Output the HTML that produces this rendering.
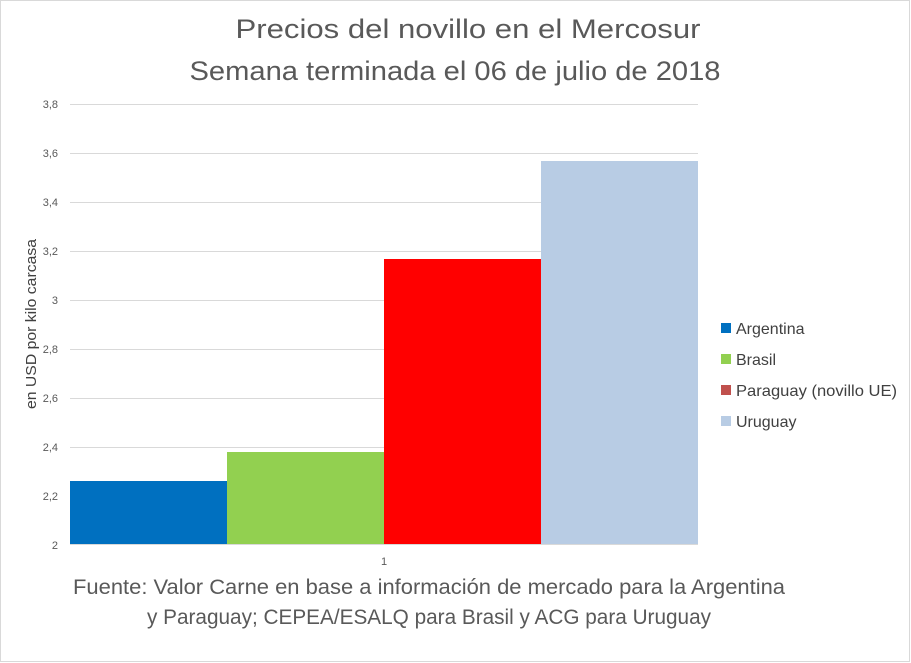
<!DOCTYPE html>
<html><head><meta charset="utf-8"><style>
html,body{margin:0;padding:0;background:#fff;}
svg{display:block;font-family:"Liberation Sans",sans-serif;}
</style></head><body>
<svg width="911" height="663" viewBox="0 0 911 663" xmlns="http://www.w3.org/2000/svg">
<rect x="0.5" y="0.5" width="909" height="661" fill="#fff" stroke="#d9d9d9"/>
<g fill="#595959">
<text x="468" y="38" font-size="27" text-anchor="middle" textLength="465" lengthAdjust="spacingAndGlyphs">Precios del novillo en el Mercosur</text>
<text x="455" y="80" font-size="27" text-anchor="middle" textLength="531" lengthAdjust="spacingAndGlyphs">Semana terminada el 06 de julio de 2018</text>
</g>
<g stroke="#d9d9d9" stroke-width="1">
<line x1="70" x2="698" y1="104.5" y2="104.5"/>
<line x1="70" x2="698" y1="153.5" y2="153.5"/>
<line x1="70" x2="698" y1="202.5" y2="202.5"/>
<line x1="70" x2="698" y1="251.5" y2="251.5"/>
<line x1="70" x2="698" y1="300.5" y2="300.5"/>
<line x1="70" x2="698" y1="349.5" y2="349.5"/>
<line x1="70" x2="698" y1="398.5" y2="398.5"/>
<line x1="70" x2="698" y1="447.5" y2="447.5"/>
<line x1="70" x2="698" y1="496.5" y2="496.5"/>
</g>
<g font-size="11" fill="#595959" text-anchor="end">
<text x="58" y="108">3,8</text><text x="58" y="157">3,6</text><text x="58" y="206">3,4</text>
<text x="58" y="255">3,2</text><text x="58" y="304">3</text><text x="58" y="353">2,8</text>
<text x="58" y="402">2,6</text><text x="58" y="451">2,4</text><text x="58" y="500">2,2</text>
<text x="58" y="549">2</text>
</g>
<text transform="translate(36,324) rotate(-90)" font-size="15" fill="#404040" text-anchor="middle" textLength="170" lengthAdjust="spacingAndGlyphs">en USD por kilo carcasa</text>
<rect x="70" y="481" width="157" height="63" fill="#0070c0"/>
<rect x="227" y="452" width="157" height="92" fill="#92d050"/>
<rect x="384" y="259" width="157" height="285" fill="#ff0000"/>
<rect x="541" y="161" width="157" height="383" fill="#b8cce4"/>
<line x1="70" x2="698" y1="544.5" y2="544.5" stroke="#d9d9d9"/>
<text x="384" y="565" font-size="11" fill="#595959" text-anchor="middle">1</text>
<g font-size="16" fill="#404040">
<rect x="721" y="323" width="10" height="10" fill="#0070c0"/><text x="736" y="334">Argentina</text>
<rect x="721" y="354" width="10" height="10" fill="#92d050"/><text x="736" y="365">Brasil</text>
<rect x="721" y="385" width="10" height="10" fill="#c0504d"/><text x="736" y="396" textLength="161" lengthAdjust="spacingAndGlyphs">Paraguay (novillo UE)</text>
<rect x="721" y="416" width="10" height="10" fill="#b8cce4"/><text x="736" y="427">Uruguay</text>
</g>
<g font-size="21" fill="#595959">
<text x="73" y="594" textLength="712" lengthAdjust="spacingAndGlyphs">Fuente: Valor Carne en base a información de mercado para la Argentina</text>
<text x="147" y="624" textLength="564" lengthAdjust="spacingAndGlyphs">y Paraguay; CEPEA/ESALQ para Brasil y ACG para Uruguay</text>
</g>
</svg>
</body></html>
